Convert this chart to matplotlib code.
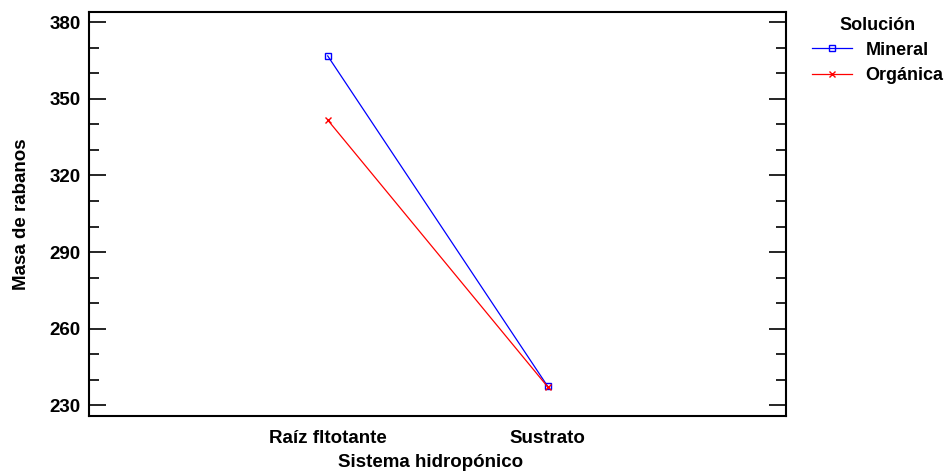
import matplotlib.pyplot as plt
from matplotlib.ticker import FixedLocator

plt.rcParams['font.family'] = ['Liberation Sans Narrow', 'Liberation Sans', 'DejaVu Sans']
plt.rcParams['font.weight'] = 'bold'

# data
sistemas = ['Raíz fltotante', 'Sustrato']
mineral = [366.8, 237.4]
organica = [341.7, 237.2]
yticks = [230, 260, 290, 320, 350, 380]

fig = plt.figure(figsize=(9.52, 4.74), dpi=100)
ax = fig.add_axes([0.0935, 0.1224, 0.7321, 0.8523])

pos = [1, 2]
ax.plot(pos, mineral, color='blue', lw=0.9, marker='s', ms=4.5,
        mfc='none', mec='blue', mew=1, label='Mineral')
ax.plot(pos, organica, color='red', lw=0.9, marker='x', ms=5,
        mec='red', mew=1, label='Orgánica')

ax.set_xlim(1 - 1.085, 2 + 1.083)
ax.set_ylim(225.8, 384.0)
ax.set_xticks(pos)
ax.set_xticklabels(sistemas, fontsize=13.5, fontweight='bold')
ax.tick_params(axis='x', length=0, pad=10)
ax.set_yticks(yticks)
ax.yaxis.set_minor_locator(FixedLocator(range(230, 384, 10)))
ax.tick_params(axis='y', which='major', direction='in', length=12, width=1.2,
               right=True, labelsize=13.5, pad=6)
ax.tick_params(axis='y', which='minor', direction='in', length=7, width=1.2,
               right=True)
for t in ax.get_yticklabels():
    t.set_fontweight('bold')
for s in ax.spines.values():
    s.set_linewidth(1.5)

ax.set_xlabel('Sistema hidropónico', fontsize=13.5, fontweight='bold')
ax.xaxis.set_label_coords(0.49, -0.095)
ax.set_ylabel('Masa de rabanos', fontsize=13.5, fontweight='bold', labelpad=14)

leg = ax.legend(loc='upper left', bbox_to_anchor=(0.853, 0.965),
                bbox_transform=fig.transFigure, frameon=False,
                title='Solución', fontsize=13, title_fontsize=13,
                handlelength=2.2, handletextpad=0.75, labelspacing=0.45,
                borderpad=0, borderaxespad=0)
leg.get_title().set_fontweight('bold')
for t in leg.get_texts():
    t.set_fontweight('bold')

fig.savefig('out.png', dpi=100)
